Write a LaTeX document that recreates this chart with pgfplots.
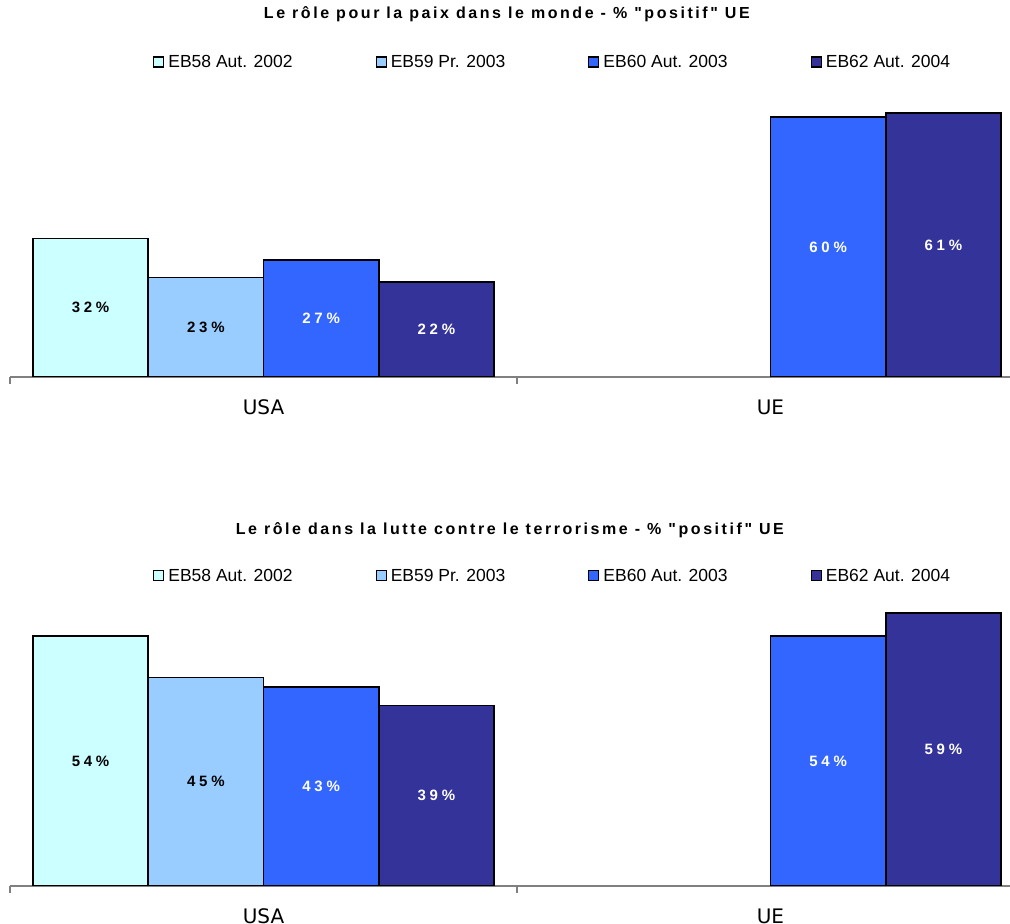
\documentclass[border=0pt]{standalone}
\usepackage{fontspec}
\setmainfont{Liberation Sans}
\newfontfamily\catfont{DejaVu Sans}
\newfontfamily\titlefont{Liberation Sans}[LetterSpace=16]
\newfontfamily\barfont{Liberation Sans}[LetterSpace=25]
\newfontfamily\legfont{Liberation Sans}
\usepackage{pgfplots}
\pgfplotsset{compat=1.18}
\definecolor{cA}{HTML}{CCFFFF}
\definecolor{cB}{HTML}{99CCFF}
\definecolor{cC}{HTML}{3366FF}
\definecolor{cD}{HTML}{333399}
\definecolor{axgray}{HTML}{808080}
\pgfplotsset{
 mystyle/.style={
  scale only axis, width=1014pt,
  xmin=-0.5, xmax=1.5, ymin=0, ymax=64,
  ybar=0pt, bar width=0.2274,
  axis x line=bottom, axis y line=none,
  x axis line style={-, draw=axgray, line width=1.3pt},
  xtick={0,1}, xticklabels={USA,UE},
  major tick length=0pt,
  minor xtick={-0.5,0.5,1.5}, minor tick length=7pt, tick align=outside,
  minor tick style={draw=axgray, line width=1.3pt},
  xticklabel style={font=\catfont\fontsize{20}{24}\selectfont, yshift=-19pt},
  point meta=explicit symbolic,
  nodes near coords,
  visualization depends on={rawy \as \rawy},
  legend columns=4,
  legend style={draw=none, fill=none, inner sep=0pt, anchor=west,
    font=\legfont\fontsize{17.5}{20}\selectfont,
    /tikz/every odd column/.append style={column sep=2pt},
    /tikz/every even column/.append style={column sep=81pt}},
  legend image code/.code={\draw[#1, draw=black, line width=1.2pt] (0pt,-5pt) rectangle (10pt,5pt);},
  title style={anchor=center, font=\titlefont\bfseries\fontsize{16}{19}\selectfont},
  every axis plot/.append style={draw=black, line width=1.6pt},
 },
 lblk/.style={every node near coord/.append style={text=black}},
 lwht/.style={every node near coord/.append style={text=white}},
}
\begin{document}
\begin{tikzpicture}
\useasboundingbox (0,0) rectangle (1010pt,924pt);
\clip (0,0) rectangle (1010pt,924pt);
\begin{axis}[mystyle, at={(10pt,547pt)}, anchor=south west, height=277.12pt,
  title={Le rôle pour la paix dans le monde - \% "positif" UE},
  title style={at={(0.490,1.289)}},
  legend style={at={(0.141,1.137)}},
  every node near coord/.append style={anchor=center, draw=none, fill=none,
    font=\barfont\bfseries\fontsize{15}{17}\selectfont, yshift={-2.165pt*\rawy}}]
\addplot[fill=cA, lblk] coordinates {(0,32) [32\%]};
\addplot[fill=cB, lblk] coordinates {(0,23) [23\%]};
\addplot[fill=cC, lwht] coordinates {(0,27) [27\%] (1,60) [60\%]};
\addplot[fill=cD, lwht] coordinates {(0,22) [22\%] (1,61) [61\%]};
\legend{EB58 Aut. 2002, EB59 Pr. 2003, EB60 Aut. 2003, EB62 Aut. 2004}
\end{axis}
\begin{axis}[mystyle, at={(10pt,38pt)}, anchor=south west, height=296.32pt,
  title={Le rôle dans la lutte contre le terrorisme - \% "positif" UE},
  title style={at={(0.493,1.182)}},
  legend style={at={(0.141,1.047)}},
  every node near coord/.append style={anchor=center, draw=none, fill=none,
    font=\barfont\bfseries\fontsize{15}{17}\selectfont, yshift={-2.315pt*\rawy}}]
\addplot[fill=cA, lblk] coordinates {(0,54) [54\%]};
\addplot[fill=cB, lblk] coordinates {(0,45) [45\%]};
\addplot[fill=cC, lwht] coordinates {(0,43) [43\%] (1,54) [54\%]};
\addplot[fill=cD, lwht] coordinates {(0,39) [39\%] (1,59) [59\%]};
\legend{EB58 Aut. 2002, EB59 Pr. 2003, EB60 Aut. 2003, EB62 Aut. 2004}
\end{axis}
\end{tikzpicture}
\end{document}
